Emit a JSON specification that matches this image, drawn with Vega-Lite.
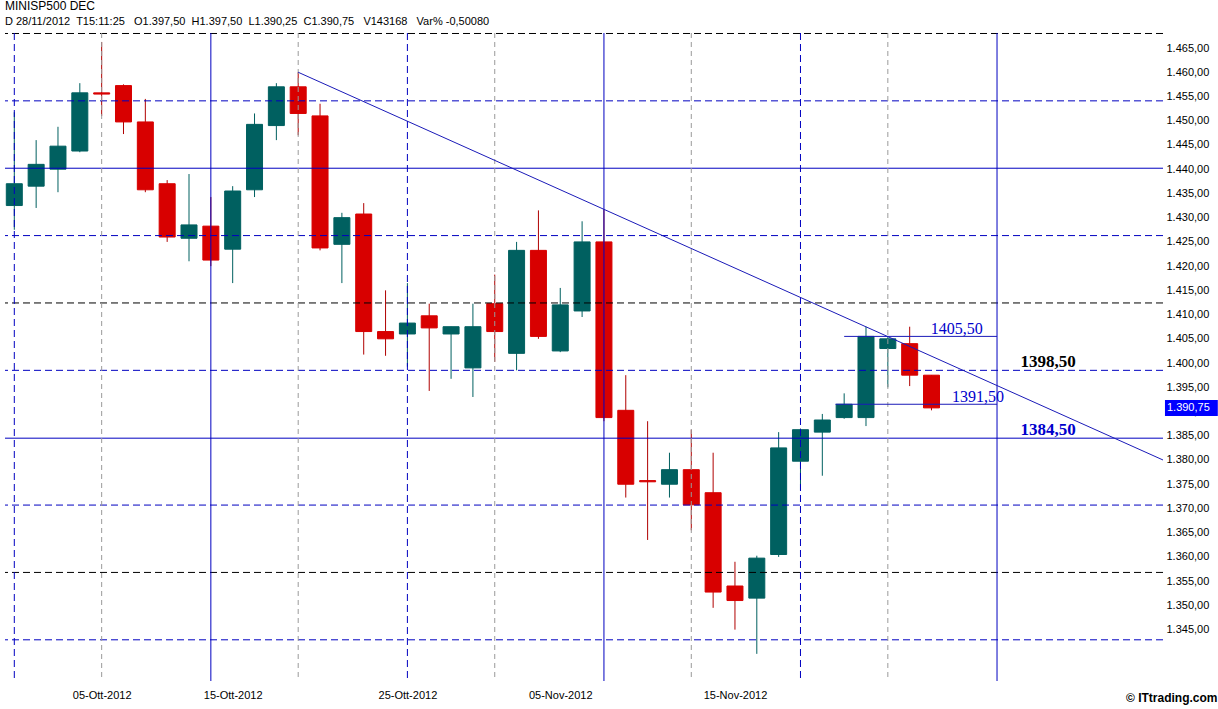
{
  "$schema": "https://vega.github.io/schema/vega-lite/v6.json",
  "width": 1158,
  "height": 648,
  "autosize": {"type": "none"},
  "padding": {"left": 5, "top": 33, "right": 55, "bottom": 28},
  "background": "white",
  "config": {
    "locale": {"number": {"decimal": ",", "thousands": ".", "grouping": [3], "currency": ["", " €"]}},
    "view": {"stroke": null},
    "font": "Liberation Sans",
    "scale": {"continuousPadding": 0},
    "axis": {"grid": false, "domain": false, "ticks": false, "labelColor": "black", "labelFont": "Liberation Sans", "labelFontSize": 11, "labelOverlap": false, "labelFlush": false}
  },
  "resolve": {"axis": {"x": "independent", "y": "independent"}},
  "title": {
    "text": "MINISP500 DEC",
    "subtitle": "D 28/11/2012\u00a0 T15:11:25\u00a0\u00a0 O1.397,50\u00a0 H1.397,50\u00a0 L1.390,25\u00a0 C1.390,75\u00a0\u00a0 V143168\u00a0\u00a0 Var% -0,50080",
    "anchor": "start",
    "frame": "group",
    "offset": 5,
    "font": "Liberation Sans",
    "fontSize": 12,
    "fontWeight": "normal",
    "color": "black",
    "subtitleFont": "Liberation Sans",
    "subtitleFontSize": 11,
    "subtitleColor": "black",
    "subtitlePadding": 3
  },
  "datasets": {
    "candles": [
      {"date": "2012-10-01", "open": 1432.5, "high": 1451.75, "low": 1427.5, "close": 1437.0},
      {"date": "2012-10-02", "open": 1436.5, "high": 1446.0, "low": 1432.0, "close": 1441.0},
      {"date": "2012-10-03", "open": 1440.0, "high": 1448.75, "low": 1435.25, "close": 1444.75},
      {"date": "2012-10-04", "open": 1443.75, "high": 1457.75, "low": 1443.5, "close": 1455.75},
      {"date": "2012-10-05", "open": 1455.75, "high": 1466.25, "low": 1451.0, "close": 1455.5},
      {"date": "2012-10-08", "open": 1457.25, "high": 1457.5, "low": 1447.25, "close": 1449.75},
      {"date": "2012-10-09", "open": 1449.75, "high": 1454.5, "low": 1435.25, "close": 1435.75},
      {"date": "2012-10-10", "open": 1437.0, "high": 1437.75, "low": 1425.0, "close": 1426.0},
      {"date": "2012-10-11", "open": 1425.75, "high": 1439.0, "low": 1421.0, "close": 1428.5},
      {"date": "2012-10-12", "open": 1428.25, "high": 1434.25, "low": 1420.0, "close": 1421.25},
      {"date": "2012-10-15", "open": 1423.5, "high": 1436.5, "low": 1416.5, "close": 1435.5},
      {"date": "2012-10-16", "open": 1435.75, "high": 1451.5, "low": 1434.25, "close": 1449.25},
      {"date": "2012-10-17", "open": 1449.0, "high": 1457.75, "low": 1446.0, "close": 1457.0},
      {"date": "2012-10-18", "open": 1457.0, "high": 1460.0, "low": 1447.0, "close": 1451.5},
      {"date": "2012-10-19", "open": 1451.0, "high": 1453.5, "low": 1423.25, "close": 1423.75},
      {"date": "2012-10-22", "open": 1424.5, "high": 1431.0, "low": 1416.5, "close": 1430.0},
      {"date": "2012-10-23", "open": 1430.75, "high": 1433.0, "low": 1401.75, "close": 1406.5},
      {"date": "2012-10-24", "open": 1406.5, "high": 1415.0, "low": 1401.5, "close": 1405.0},
      {"date": "2012-10-25", "open": 1406.0, "high": 1416.5, "low": 1399.25, "close": 1408.25},
      {"date": "2012-10-26", "open": 1409.75, "high": 1412.25, "low": 1394.25, "close": 1407.25},
      {"date": "2012-10-29", "open": 1406.0, "high": 1407.5, "low": 1396.75, "close": 1407.5},
      {"date": "2012-10-30", "open": 1399.0, "high": 1412.25, "low": 1393.0, "close": 1407.5},
      {"date": "2012-10-31", "open": 1412.25, "high": 1418.25, "low": 1400.25, "close": 1406.5},
      {"date": "2012-11-01", "open": 1402.0, "high": 1425.0, "low": 1398.5, "close": 1423.25},
      {"date": "2012-11-02", "open": 1423.25, "high": 1431.5, "low": 1405.0, "close": 1405.5},
      {"date": "2012-11-05", "open": 1402.5, "high": 1415.5, "low": 1402.25, "close": 1412.0},
      {"date": "2012-11-06", "open": 1410.75, "high": 1429.25, "low": 1409.5, "close": 1425.0},
      {"date": "2012-11-07", "open": 1425.0, "high": 1431.75, "low": 1388.0, "close": 1388.75},
      {"date": "2012-11-08", "open": 1390.25, "high": 1397.5, "low": 1372.25, "close": 1375.0},
      {"date": "2012-11-09", "open": 1375.75, "high": 1388.0, "low": 1363.5, "close": 1375.5},
      {"date": "2012-11-12", "open": 1375.0, "high": 1381.5, "low": 1372.25, "close": 1378.0},
      {"date": "2012-11-13", "open": 1378.0, "high": 1386.25, "low": 1365.5, "close": 1370.75},
      {"date": "2012-11-14", "open": 1373.25, "high": 1381.5, "low": 1349.5, "close": 1352.75},
      {"date": "2012-11-15", "open": 1354.0, "high": 1359.0, "low": 1345.0, "close": 1351.0},
      {"date": "2012-11-16", "open": 1351.5, "high": 1360.25, "low": 1340.0, "close": 1359.75},
      {"date": "2012-11-19", "open": 1360.5, "high": 1385.75, "low": 1360.0, "close": 1382.5},
      {"date": "2012-11-20", "open": 1379.75, "high": 1386.5, "low": 1373.75, "close": 1386.25},
      {"date": "2012-11-21", "open": 1385.75, "high": 1389.5, "low": 1376.75, "close": 1388.25},
      {"date": "2012-11-22", "open": 1388.75, "high": 1393.75, "low": 1388.5, "close": 1391.5},
      {"date": "2012-11-23", "open": 1388.75, "high": 1407.5, "low": 1387.0, "close": 1405.5},
      {"date": "2012-11-26", "open": 1403.0, "high": 1405.5, "low": 1395.0, "close": 1405.0},
      {"date": "2012-11-27", "open": 1404.0, "high": 1407.5, "low": 1395.25, "close": 1397.5},
      {"date": "2012-11-28", "open": 1397.5, "high": 1397.5, "low": 1390.25, "close": 1390.75}
    ],
    "vlines": [
      {"n": 1, "kind": "bd"}, {"n": 19, "kind": "bd"}, {"n": 37, "kind": "bd"},
      {"n": 10, "kind": "bs"}, {"n": 28, "kind": "bs"}, {"n": 46, "kind": "bs"},
      {"n": 5, "kind": "g"}, {"n": 14, "kind": "g"}, {"n": 23, "kind": "g"}, {"n": 32, "kind": "g"}, {"n": 41, "kind": "g"}
    ],
    "hlines": [
      {"price": 1468.0, "kind": "k"}, {"price": 1412.4, "kind": "k"}, {"price": 1356.8, "kind": "k"},
      {"price": 1454.1, "kind": "bd"}, {"price": 1426.3, "kind": "bd"}, {"price": 1398.5, "kind": "bd"}, {"price": 1370.7, "kind": "bd"}, {"price": 1342.9, "kind": "bd"},
      {"price": 1440.2, "kind": "bs"}, {"price": 1384.5, "kind": "bs"}
    ],
    "segments": [
      {"n": 39, "n2": 46, "price": 1405.5, "price2": 1405.5},
      {"n": 38.6, "n2": 46, "price": 1391.5, "price2": 1391.5},
      {"n": 14, "n2": 53.6, "price": 1460.0, "price2": 1380.0}
    ],
    "notes": [
      {"n": 44.16, "price": 1405.5, "label": "1405,50", "kind": "small"},
      {"n": 45.13, "price": 1391.5, "label": "1391,50", "kind": "small"},
      {"n": 48.34, "price": 1398.5, "label": "1398,50", "kind": "bigk"},
      {"n": 48.34, "price": 1384.5, "label": "1384,50", "kind": "bigb"}
    ],
    "last": [{"price": 1390.75}]
  },
  "layer": [
    {
      "data": {"name": "candles"},
      "transform": [{"window": [{"op": "row_number", "as": "n"}], "sort": [{"field": "date"}]}],
      "mark": {"type": "rule", "strokeWidth": 1},
      "encoding": {
        "x": {"field": "n", "type": "quantitative", "scale": {"domain": [0.574, 53.6], "nice": false, "zero": false, "padding": 0},
          "axis": {"title": "© ITtrading.com", "values": [5, 11, 19, 26, 34],
            "labelExpr": "datum.value == 5 ? '05-Ott-2012' : datum.value == 11 ? '15-Ott-2012' : datum.value == 19 ? '25-Ott-2012' : datum.value == 26 ? '05-Nov-2012' : '15-Nov-2012'",
            "labelPadding": 8, "titleFont": "Liberation Sans", "titleFontSize": 12, "titleFontWeight": "bold", "titleColor": "black",
            "titleX": 1212, "titleY": 16, "titleAlign": "right", "titleBaseline": "middle"}},
        "y": {"field": "low", "type": "quantitative", "scale": {"domain": [1334.4, 1468.1], "nice": false, "zero": false, "padding": 0},
          "axis": {"title": null, "orient": "right", "values": [1345, 1350, 1355, 1360, 1365, 1370, 1375, 1380, 1385, 1390, 1395, 1400, 1405, 1410, 1415, 1420, 1425, 1430, 1435, 1440, 1445, 1450, 1455, 1460, 1465], "format": ",.2f", "labelPadding": 3}},
        "y2": {"field": "high"},
        "color": {"condition": {"test": "datum.close < datum.open", "value": "#B00000"}, "value": "#006060"}
      }
    },
    {
      "data": {"name": "candles"},
      "transform": [{"window": [{"op": "row_number", "as": "n"}], "sort": [{"field": "date"}]}],
      "mark": {"type": "bar", "size": 16, "strokeWidth": 1},
      "encoding": {
        "x": {"field": "n", "type": "quantitative", "scale": {"domain": [0.574, 53.6], "nice": false, "zero": false, "padding": 0}, "axis": null},
        "y": {"field": "open", "type": "quantitative", "scale": {"domain": [1334.4, 1468.1], "nice": false, "zero": false, "padding": 0}, "axis": null},
        "y2": {"field": "close"},
        "color": {"condition": {"test": "datum.close < datum.open", "value": "#D80000"}, "value": "#006060"},
        "stroke": {"condition": {"test": "datum.close < datum.open", "value": "#D80000"}, "value": "#006060"}
      }
    },
    {
      "data": {"name": "hlines"},
      "transform": [{"filter": "datum.kind == 'k'"}],
      "mark": {"type": "rule", "color": "#000000", "strokeWidth": 1, "strokeDash": [7, 4]},
      "encoding": {
        "y": {"field": "price", "type": "quantitative", "scale": {"domain": [1334.4, 1468.1], "nice": false, "zero": false, "padding": 0}, "axis": null}
      }
    },
    {
      "data": {"name": "hlines"},
      "transform": [{"filter": "datum.kind == 'bd'"}],
      "mark": {"type": "rule", "color": "#0000C0", "strokeWidth": 1, "strokeDash": [7, 4]},
      "encoding": {
        "y": {"field": "price", "type": "quantitative", "scale": {"domain": [1334.4, 1468.1], "nice": false, "zero": false, "padding": 0}, "axis": null}
      }
    },
    {
      "data": {"name": "hlines"},
      "transform": [{"filter": "datum.kind == 'bs'"}],
      "mark": {"type": "rule", "color": "#0000C0", "strokeWidth": 1},
      "encoding": {
        "y": {"field": "price", "type": "quantitative", "scale": {"domain": [1334.4, 1468.1], "nice": false, "zero": false, "padding": 0}, "axis": null}
      }
    },
    {
      "data": {"name": "vlines"},
      "transform": [{"filter": "datum.kind == 'bd'"}],
      "mark": {"type": "rule", "color": "#0000C0", "strokeWidth": 1, "strokeDash": [7, 4]},
      "encoding": {
        "x": {"field": "n", "type": "quantitative", "scale": {"domain": [0.574, 53.6], "nice": false, "zero": false, "padding": 0}, "axis": null}
      }
    },
    {
      "data": {"name": "vlines"},
      "transform": [{"filter": "datum.kind == 'bs'"}],
      "mark": {"type": "rule", "color": "#0000C0", "strokeWidth": 1},
      "encoding": {
        "x": {"field": "n", "type": "quantitative", "scale": {"domain": [0.574, 53.6], "nice": false, "zero": false, "padding": 0}, "axis": null}
      }
    },
    {
      "data": {"name": "vlines"},
      "transform": [{"filter": "datum.kind == 'g'"}],
      "mark": {"type": "rule", "color": "#9A9A9A", "strokeWidth": 1, "strokeDash": [5, 4]},
      "encoding": {
        "x": {"field": "n", "type": "quantitative", "scale": {"domain": [0.574, 53.6], "nice": false, "zero": false, "padding": 0}, "axis": null}
      }
    },
    {
      "data": {"name": "segments"},
      "mark": {"type": "rule", "color": "#1A1AB8", "strokeWidth": 1},
      "encoding": {
        "x": {"field": "n", "type": "quantitative", "scale": {"domain": [0.574, 53.6], "nice": false, "zero": false, "padding": 0}, "axis": null},
        "x2": {"field": "n2"},
        "y": {"field": "price", "type": "quantitative", "scale": {"domain": [1334.4, 1468.1], "nice": false, "zero": false, "padding": 0}, "axis": null},
        "y2": {"field": "price2"}
      }
    },
    {
      "data": {"name": "notes"},
      "transform": [{"filter": "datum.kind == 'small'"}],
      "mark": {"type": "text", "font": "Liberation Serif", "fontSize": 16, "color": "#0000CC", "align": "center", "baseline": "alphabetic", "dy": -2},
      "encoding": {
        "x": {"field": "n", "type": "quantitative", "scale": {"domain": [0.574, 53.6], "nice": false, "zero": false, "padding": 0}, "axis": null},
        "y": {"field": "price", "type": "quantitative", "scale": {"domain": [1334.4, 1468.1], "nice": false, "zero": false, "padding": 0}, "axis": null},
        "text": {"field": "label"}
      }
    },
    {
      "data": {"name": "notes"},
      "transform": [{"filter": "datum.kind == 'bigk'"}],
      "mark": {"type": "text", "font": "Liberation Serif", "fontSize": 17, "fontWeight": "bold", "color": "#000000", "align": "center", "baseline": "alphabetic", "dy": -3},
      "encoding": {
        "x": {"field": "n", "type": "quantitative", "scale": {"domain": [0.574, 53.6], "nice": false, "zero": false, "padding": 0}, "axis": null},
        "y": {"field": "price", "type": "quantitative", "scale": {"domain": [1334.4, 1468.1], "nice": false, "zero": false, "padding": 0}, "axis": null},
        "text": {"field": "label"}
      }
    },
    {
      "data": {"name": "notes"},
      "transform": [{"filter": "datum.kind == 'bigb'"}],
      "mark": {"type": "text", "font": "Liberation Serif", "fontSize": 17, "fontWeight": "bold", "color": "#0000CC", "align": "center", "baseline": "alphabetic", "dy": -3},
      "encoding": {
        "x": {"field": "n", "type": "quantitative", "scale": {"domain": [0.574, 53.6], "nice": false, "zero": false, "padding": 0}, "axis": null},
        "y": {"field": "price", "type": "quantitative", "scale": {"domain": [1334.4, 1468.1], "nice": false, "zero": false, "padding": 0}, "axis": null},
        "text": {"field": "label"}
      }
    },
    {
      "data": {"name": "last"},
      "mark": {"type": "bar", "size": 16, "color": "#0000FF"},
      "encoding": {
        "x": {"datum": 53.69, "type": "quantitative", "scale": {"domain": [0.574, 53.6], "nice": false, "zero": false, "padding": 0}, "axis": null},
        "x2": {"datum": 56.11},
        "y": {"field": "price", "type": "quantitative", "scale": {"domain": [1334.4, 1468.1], "nice": false, "zero": false, "padding": 0}, "axis": null}
      }
    },
    {
      "data": {"name": "last"},
      "mark": {"type": "text", "font": "Liberation Sans", "fontSize": 11, "color": "#FFFFFF", "align": "left", "baseline": "middle", "dx": 2},
      "encoding": {
        "x": {"datum": 53.69, "type": "quantitative", "scale": {"domain": [0.574, 53.6], "nice": false, "zero": false, "padding": 0}, "axis": null},
        "y": {"field": "price", "type": "quantitative", "scale": {"domain": [1334.4, 1468.1], "nice": false, "zero": false, "padding": 0}, "axis": null},
        "text": {"field": "price", "format": ",.2f"}
      }
    }
  ]
}
